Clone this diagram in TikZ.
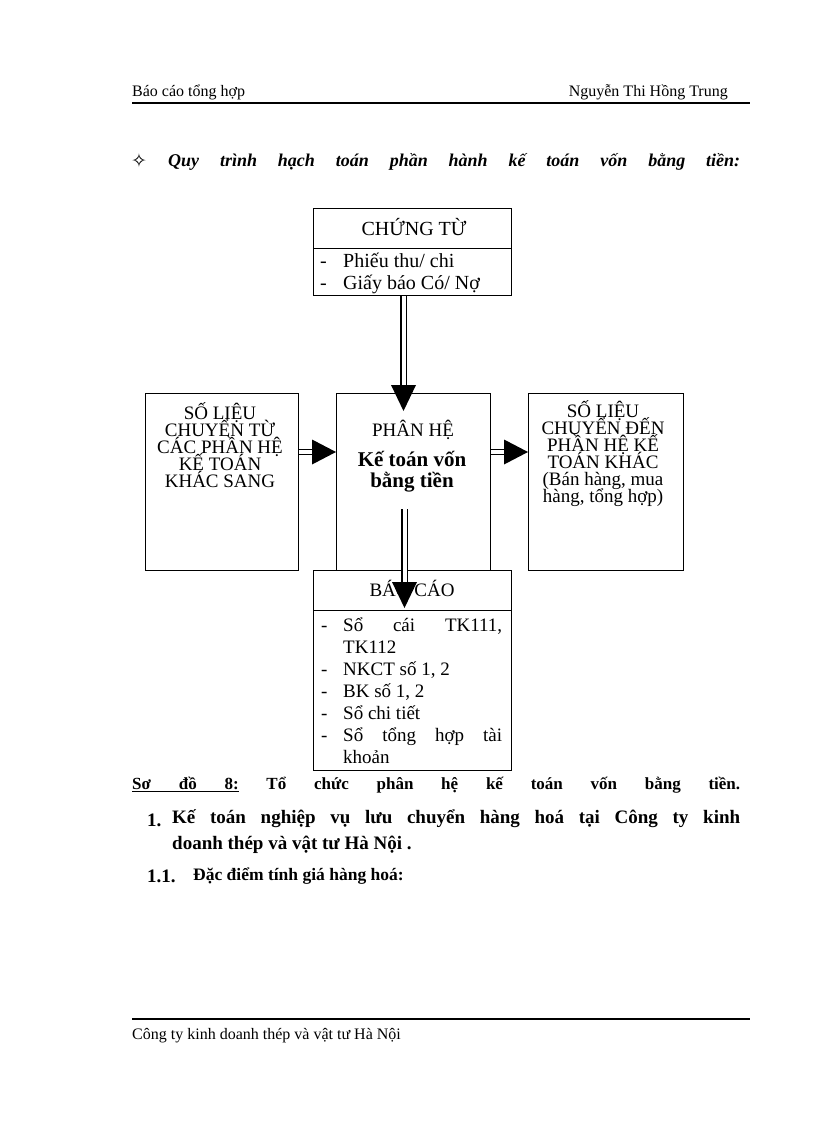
\documentclass[tikz,border=0pt]{standalone}
\usepackage{fontspec}
\setmainfont{Liberation Serif}
\newfontfamily\symfont{DejaVu Sans}
\usetikzlibrary{calc}
\newcommand\ulw[1]{\setbox0\hbox{#1}\rlap{\rule[-3pt]{\wd0}{1.4pt}}\box0}
\newcommand\ulgap{\leaders\hrule height -1.6pt depth 3pt\hfill}
\tikzset{
  box/.style={draw, line width=1pt, anchor=north west, inner sep=0},
  txt/.style={inner sep=0, anchor=base west, font=\fontsize{16}{19}\selectfont},
  ctr/.style={inner sep=0, anchor=base, font=\fontsize{16}{19}\selectfont},
  btxt/.style={inner sep=0, anchor=base west, font=\fontsize{19}{22}\selectfont},
  bctr/.style={inner sep=0, anchor=base, font=\fontsize{19}{22}\selectfont},
  dbl/.style={double, double distance=4pt, line width=1.4pt},
  head/.style={fill=black},
  rule/.style={line width=1.2pt},
}
\begin{document}
\begin{tikzpicture}[x=1pt,y=-1pt]
\useasboundingbox[fill=white] (0,0) rectangle (816,1123);

% header
\node[txt] (hl) at (132,97) {Báo cáo tổng hợp};
\node[txt, anchor=base east] (hr) at (728,97) {Nguyễn Thi Hồng Trung};
\coordinate (hu1) at (132,103);
\coordinate (hu2) at (750,103);
\draw[rule] (hu1) -- (hu2);

% title
\node[txt, font=\symfont\fontsize{19}{22}\selectfont] (star) at (131,168) {✧};
\node[txt, font=\bfseries\itshape\fontsize{18}{21}\selectfont] (title) at (168,167)
  {\hbox to 572pt{Quy\hfill trình\hfill hạch\hfill toán\hfill phần\hfill hành\hfill kế\hfill toán\hfill vốn\hfill bằng\hfill tiền:}};

% boxes
\node[box, minimum width=198, minimum height=87] (ct) at (313,208) {};
\draw[line width=1pt] ($(ct.north west)+(0,40)$) -- ($(ct.north east)+(0,40)$);
\node[bctr, font=\fontsize{20}{23}\selectfont] (ctt) at (414,236) {CHỨNG TỪ};
\node[btxt, font=\fontsize{20}{23}\selectfont] (ctd1) at (320,267) {-};
\node[btxt, font=\fontsize{20}{23}\selectfont] (cti1) at (343,267) {Phiếu thu/ chi};
\node[btxt, font=\fontsize{20}{23}\selectfont] (ctd2) at (320,289) {-};
\node[btxt, font=\fontsize{20}{23}\selectfont] (cti2) at (343,289) {Giấy báo Có/ Nợ};

\node[box, minimum width=153, minimum height=177] (lb) at (145,393) {};
\foreach \t [count=\i] in {SỐ LIỆU, CHUYỂN TỪ, CÁC PHẦN HỆ, KẾ TOÁN, KHÁC SANG}
  \node[bctr] (lt\i) at (220,402+17*\i) {\t};

\node[box, minimum width=154, minimum height=177] (ph) at (336,393) {};
\node[bctr] (pht) at (413,436) {PHÂN HỆ};
\node[bctr, font=\bfseries\fontsize{21}{24}\selectfont] (phb1) at (412,466) {Kế toán vốn};
\node[bctr, font=\bfseries\fontsize{21}{24}\selectfont] (phb2) at (412,487) {bằng tiền};

\node[box, minimum width=155, minimum height=177] (rb) at (528,393) {};
\foreach \t [count=\i] in {SỐ LIỆU, CHUYỂN ĐẾN, PHẦN HỆ KẾ, TOÁN KHÁC, {(Bán hàng, mua}, {hàng, tổng hợp)}}
  \node[bctr] (rt\i) at (603,400+17*\i) {\t};

\node[box, minimum width=198, minimum height=200] (bc) at (313,570) {};
\draw[line width=1pt] ($(bc.north west)+(0,40)$) -- ($(bc.north east)+(0,40)$);
\node[bctr] (bct) at (412,596) {BÁO CÁO};
\node[btxt] (bd1) at (321,631) {-};
\node[btxt] (bi1) at (343,631) {\hbox to 159pt{Sổ\hfill cái\hfill TK111,}};
\node[btxt] (bi1b) at (343,653) {TK112};
\node[btxt] (bd2) at (321,675) {-};
\node[btxt] (bi2) at (343,675) {NKCT số 1, 2};
\node[btxt] (bd3) at (321,697) {-};
\node[btxt] (bi3) at (343,697) {BK số 1, 2};
\node[btxt] (bd4) at (321,719) {-};
\node[btxt] (bi4) at (343,719) {Sổ chi tiết};
\node[btxt] (bd5) at (321,741) {-};
\node[btxt] (bi5) at (343,741) {\hbox to 159pt{Sổ\hfill tổng\hfill hợp\hfill tài}};
\node[btxt] (bi5b) at (343,763) {khoản};

% arrows
\coordinate (a1s) at ($(ct.south)+(-9,0)$);
\coordinate (a1e) at ($(ph.north)+(-10,18)$);
\draw[dbl] (a1s) -- ($(a1e)+(0,-25)$);
\fill[head] (a1e) -- ++(-12.5,-26) -- ++(25,0) -- cycle;

\coordinate (a2s) at ($(lb.east)+(0,-30)$);
\coordinate (a2e) at ($(ph.west)+(0,-30)$);
\draw[dbl] (a2s) -- ($(a2e)+(-23,0)$);
\fill[head] (a2e) -- ++(-24,-12.5) -- ++(0,25) -- cycle;

\coordinate (a3s) at ($(ph.east)+(0,-30)$);
\coordinate (a3e) at ($(rb.west)+(0,-30)$);
\draw[dbl] (a3s) -- ($(a3e)+(-23,0)$);
\fill[head] (a3e) -- ++(-24,-12.5) -- ++(0,25) -- cycle;

\coordinate (a4s) at ($(ph.south)+(-9,-62)$);
\coordinate (a4e) at ($(bc.north)+(-8,38)$);
\draw[dbl] (a4s) -- ($(a4e)+(0,-24)$);
\fill[head] (a4e) -- ++(-12.5,-26) -- ++(25,0) -- cycle;

% caption
\node[txt, font=\bfseries\fontsize{17}{20}\selectfont] (cap) at (132,789)
  {\hbox to 608pt{\ulw{Sơ}\ulgap\ulw{đồ}\ulgap\ulw{8:}\hfill Tổ\hfill chức\hfill phân\hfill hệ\hfill kế\hfill toán\hfill vốn\hfill bằng\hfill tiền.}};

% heading 1
\node[txt, font=\bfseries\fontsize{19}{22}\selectfont] (h1n) at (147,826) {1.};
\node[txt, font=\bfseries\fontsize{19}{22}\selectfont] (h1a) at (172,823)
  {\hbox to 568pt{Kế\hfill toán\hfill nghiệp\hfill vụ\hfill lưu\hfill chuyển\hfill hàng\hfill hoá\hfill tại\hfill Công\hfill ty\hfill kinh}};
\node[txt, font=\bfseries\fontsize{19}{22}\selectfont] (h1b) at (172,849) {doanh thép và vật tư Hà Nội .};

\node[txt, font=\bfseries\fontsize{19}{22}\selectfont] (h2n) at (147,882) {1.1.};
\node[txt, font=\bfseries\fontsize{17.5}{20}\selectfont] (h2a) at (193,880) {Đặc điểm tính giá hàng hoá:};

% footer
\coordinate (fu1) at (132,1019);
\coordinate (fu2) at (750,1019);
\draw[rule] (fu1) -- (fu2);
\node[txt] (ft) at (132,1039) {Công ty kinh doanh thép và vật tư Hà Nội};
\end{tikzpicture}
\end{document}
